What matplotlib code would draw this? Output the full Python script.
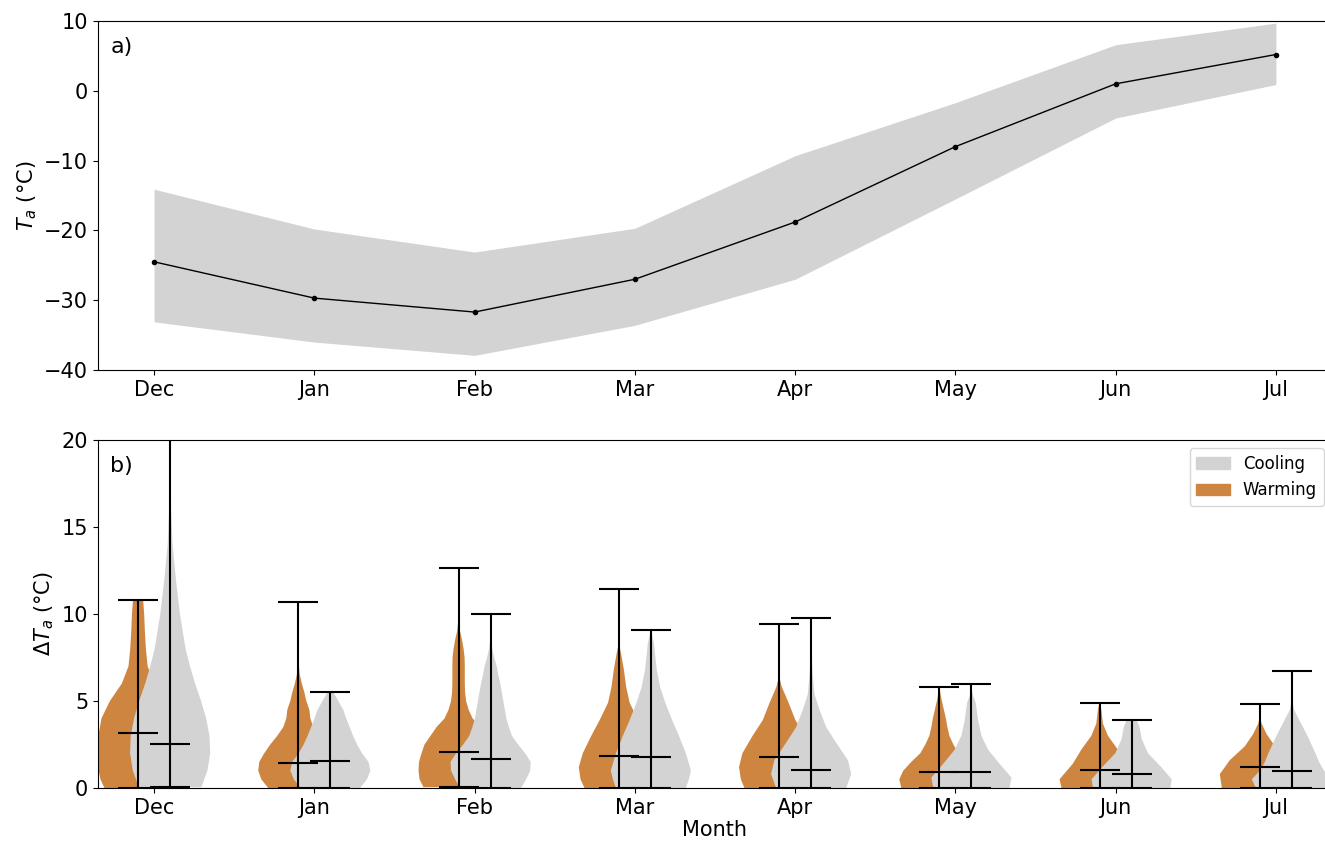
import numpy as np
import matplotlib
matplotlib.use('Agg')
import matplotlib.pyplot as plt
from matplotlib.patches import Patch

months = ['Dec', 'Jan', 'Feb', 'Mar', 'Apr', 'May', 'Jun', 'Jul']

# panel a) mean air temperature and its spread
ta_mean = [-24.5, -29.7, -31.7, -27.0, -18.8, -8.0, 1.0, 5.2]
ta_upper = [-14.1, -19.8, -23.1, -19.7, -9.3, -1.7, 6.6, 9.7]
ta_lower = [-33.1, -36.0, -37.9, -33.6, -27.0, -15.5, -3.9, 0.9]

# panel b) summary stats of temperature change events
warm_median = [3.16, 1.44, 2.07, 1.82, 1.78, 0.94, 1.01, 1.23]
warm_max = [10.8, 10.7, 12.64, 11.44, 9.43, 5.79, 4.9, 4.85]
cool_median = [2.53, 1.55, 1.67, 1.76, 1.05, 0.92, 0.82, 1.0]
cool_max = [23.0, 5.5, 10.0, 9.08, 9.79, 5.96, 3.89, 6.72]

# violin outlines: (dT level, relative density)
warm_profiles = [
    [(0, 33), (0.5, 37), (1, 38.7), (2, 39.4), (3, 39), (4, 36), (5, 27.7), (6, 16),
     (7, 9.4), (8, 7.7), (9, 6.7), (10, 6), (10.8, 5)],
    [(0, 30), (0.5, 37), (1, 40), (1.5, 39), (2, 34), (2.5, 28), (3, 21), (3.5, 15),
     (4, 12), (4.5, 11), (5, 8), (5.5, 6), (6, 3.5), (6.5, 1.5), (7, 0.6), (8, 0.2),
     (9, 0.1), (10.7, 0.05)],
    [(0.05, 35), (0.5, 39), (1, 40), (1.5, 39.5), (2, 37), (2.5, 34), (3, 28), (3.5, 22),
     (4, 14), (4.5, 10), (5, 7.5), (5.5, 6.5), (6, 6.2), (7, 6.2), (7.5, 6), (8, 5),
     (8.5, 3.5), (9, 1.5), (9.5, 0.5), (10, 0.2), (11, 0.1), (12.64, 0.05)],
    [(0, 34), (0.5, 38), (1.2, 39.7), (2, 35.7), (3, 27.3), (3.9, 19), (4.9, 10.7),
     (5.8, 7.3), (6.8, 5), (7.7, 2.3), (8.2, 0.5), (9, 0.2), (10, 0.1), (11.44, 0.05)],
    [(0, 34), (0.5, 37.5), (1.2, 39.3), (2, 36), (3, 26), (3.9, 16), (4.9, 9.3),
     (5.8, 2.7), (6.3, 0.5), (7, 0.2), (8, 0.1), (9.43, 0.05)],
    [(0, 38), (0.5, 40), (1, 36), (1.5, 28), (2, 19), (2.5, 14), (3, 10), (3.5, 8),
     (4, 6.5), (4.5, 4.5), (5, 2.5), (5.5, 0.8), (5.79, 0.3)],
    [(0, 38), (0.5, 40), (1.4, 26.7), (2.2, 18.3), (3, 8.3), (3.7, 3.3), (4.5, 1.7),
     (4.9, 0.3)],
    [(0, 38), (0.8, 40), (1.6, 30), (2.4, 15), (3.1, 6.7), (3.7, 1.7), (4.0, 0.5),
     (4.85, 0.1)],
]
cool_profiles = [
    [(0.05, 31), (1, 37), (2, 39.7), (3, 39), (4, 35.7), (5, 30.7), (6, 24.7), (7, 19.7),
     (8, 15.3), (10, 9.7), (12, 5.7), (14, 2.4), (16, 1), (18, 0.3), (20, 0.1), (23, 0.02)],
    [(0, 30), (0.5, 37), (1, 40.5), (1.5, 38.5), (2, 32), (2.5, 27), (3, 23), (3.5, 19.5),
     (4, 16), (4.5, 13), (5, 8), (5.5, 3)],
    [(0, 30), (0.5, 35), (1, 39), (1.5, 39.5), (2, 34), (2.5, 27), (3, 21), (3.5, 18),
     (4, 15.5), (4.5, 14), (5, 12.5), (5.5, 11), (6, 9.5), (6.5, 7.5), (7, 6), (7.5, 3.5),
     (8, 1.5), (8.5, 0.5), (9, 0.2), (10, 0.05)],
    [(0, 34), (0.5, 37), (1, 39), (2, 34), (3, 27.3), (3.9, 20.7), (4.9, 14), (5.8, 9),
     (6.8, 5.7), (7.7, 4), (8.3, 3), (8.9, 0.7), (9.08, 0.2)],
    [(0, 35), (0.8, 40), (1.6, 36.7), (2.6, 25), (3.5, 15), (4.5, 8.3), (5.4, 3.3),
     (6.4, 1.7), (7.4, 0.7), (8.5, 0.2), (9.79, 0.05)],
    [(0, 38), (0.6, 40), (1.4, 28), (2.2, 16.7), (3, 10), (3.9, 6.7), (4.9, 4.3),
     (5.3, 1.7), (5.6, 0.5), (5.96, 0.1)],
    [(0, 38), (0.5, 39.3), (1.2, 29), (2, 16), (2.8, 10), (3.5, 7.7), (3.89, 5)],
    [(0, 36), (0.5, 40), (1, 32), (1.5, 27), (2, 23.5), (2.5, 19.5), (3, 15.5), (3.5, 11),
     (4, 6.5), (4.5, 2), (5, 0.5), (6, 0.1), (6.72, 0.05)],
]

WARM = '#cd853f'
COOL = '#d3d3d3'

plt.rcParams['font.size'] = 15


def make_stats(profiles, medians, maxes):
    stats = []
    for prof, med, mx in zip(profiles, medians, maxes):
        lev = np.array([p[0] for p in prof])
        dens = np.array([p[1] for p in prof])
        stats.append({'coords': lev, 'vals': dens, 'mean': med, 'median': med,
                      'min': lev[0], 'max': mx, 'quantiles': []})
    return stats


def style_violin(parts, color):
    for body in parts['bodies']:
        body.set_facecolor(color)
        body.set_edgecolor('none')
        body.set_alpha(1)
    for key in ['cbars', 'cmins', 'cmaxes', 'cmedians']:
        parts[key].set_color('k')
        parts[key].set_linewidth(1.5)


W, H = 1325, 843
fig = plt.figure(figsize=(W / 100, H / 100), dpi=100)
ax1 = fig.add_axes([98 / W, (H - 370) / H, 1234 / W, 349 / H])
ax2 = fig.add_axes([98 / W, (H - 788) / H, 1234 / W, 348 / H])

x = np.arange(len(months))

# a)
ax1.fill_between(x, ta_lower, ta_upper, color=COOL, lw=0)
ax1.plot(x, ta_mean, 'k.-', lw=1, ms=6)
ax1.set_ylim(-40, 10)
ax1.set_yticks([-40, -30, -20, -10, 0, 10])
ax1.set_ylabel('$T_a$ (°C)')
ax1.text(0.01, 0.925, 'a)', transform=ax1.transAxes, fontsize=16, va='center')

# b)
pw = ax2.violin(make_stats(warm_profiles, warm_median, warm_max), positions=x - 0.1,
                widths=0.5, showmedians=True)
style_violin(pw, WARM)
pc = ax2.violin(make_stats(cool_profiles, cool_median, cool_max), positions=x + 0.1,
                widths=0.5, showmedians=True)
style_violin(pc, COOL)
ax2.axhline(0, color='gray', ls=':', lw=0.8)
ax2.set_ylim(0, 20)
ax2.set_yticks([0, 5, 10, 15, 20])
ax2.set_ylabel('$\\Delta T_a$ (°C)')
ax2.set_xlabel('Month', labelpad=2)
ax2.text(0.01, 0.925, 'b)', transform=ax2.transAxes, fontsize=16, va='center')
ax2.legend(handles=[Patch(color=COOL, label='Cooling'), Patch(color=WARM, label='Warming')],
           loc='upper right', fontsize=12)

for ax in (ax1, ax2):
    ax.set_xticks(x)
    ax.set_xticklabels(months)
    ax.set_xlim(-0.35, 7.35)
    ax.spines['right'].set_visible(False)

fig.savefig('out.png', dpi=100)
